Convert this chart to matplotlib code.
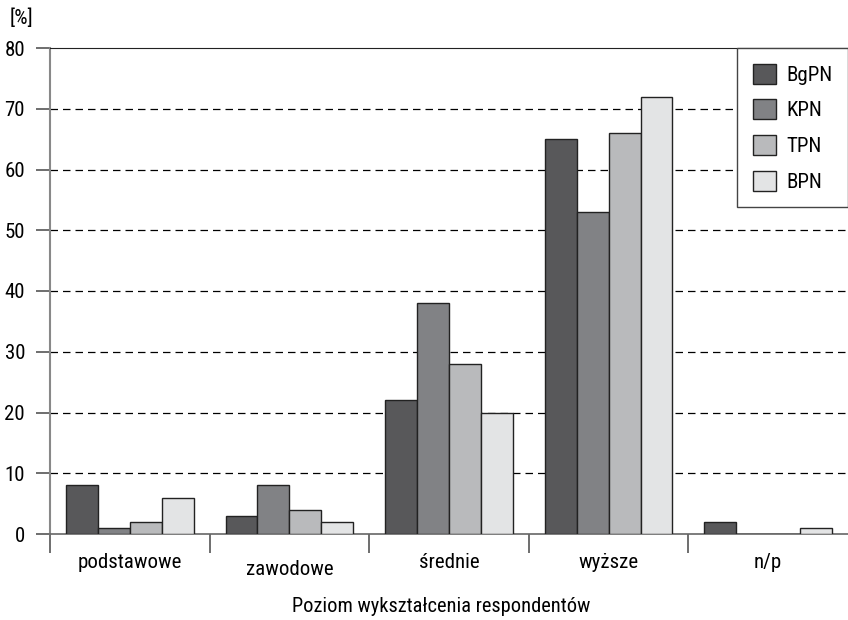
import numpy as np
import matplotlib
matplotlib.use('Agg')
import matplotlib.pyplot as plt
from matplotlib.transforms import ScaledTranslation

plt.rcParams['font.family'] = ['Roboto Condensed', 'DejaVu Sans']

# --- Data ---
categories = ["podstawowe", "zawodowe", "średnie", "wyższe", "n/p"]
series_names = ["BgPN", "KPN", "TPN", "BPN"]
bgpn = [8, 3, 22, 65, 2]
kpn = [1, 8, 38, 53, 0]
tpn = [2, 4, 28, 66, 0]
bpn = [6, 2, 20, 72, 1]
series = [bgpn, kpn, tpn, bpn]
colors = ['#58585a', '#818285', '#b9babc', '#e3e4e5']

fig = plt.figure(figsize=(8.48, 6.2), dpi=100)
ax = fig.add_axes([50 / 848, 1 - 534 / 620, 1 - 50 / 848, (534 - 48) / 620])

x = np.arange(len(categories))
bw = 0.2
for i, (vals, name) in enumerate(zip(series, series_names)):
    ax.bar(x + (i - 1.5) * bw, vals, width=bw, color=colors[i],
           edgecolor='#222222', linewidth=1.0, label=name, zorder=3)

ax.set_xlim(-0.5, len(categories) - 0.5)
ax.set_ylim(0, 80)
ax.set_yticks(range(0, 81, 10))
for yv in range(10, 80, 10):
    ax.axhline(yv, color='black', linestyle=(0, (6, 4)), linewidth=0.9, zorder=1)

# category labels on minor ticks, boundary marks on major ticks
ax.set_xticks(np.arange(-0.5, len(categories) - 0.5, 1.0))
ax.set_xticklabels([])
ax.set_xticks(x, minor=True)
ax.set_xticklabels(categories, minor=True, fontsize=15)
ax.tick_params(axis='x', which='major', length=14, width=1.2, color='#555555', direction='out')
ax.tick_params(axis='x', which='minor', length=0, pad=14)
ax.tick_params(axis='y', length=10, width=1.2, color='#555555', labelsize=15, pad=8)

# "zawodowe" sits a little lower in the original
lab = ax.get_xticklabels(minor=True)[1]
lab.set_transform(lab.get_transform() + ScaledTranslation(0, -5 / 72, fig.dpi_scale_trans))

ax.spines['right'].set_visible(False)
ax.spines['top'].set_color('#222222')
ax.spines['left'].set_color('#888888')
ax.spines['left'].set_linewidth(1.5)
ax.spines['bottom'].set_color('#666666')
ax.spines['bottom'].set_linewidth(1.2)

fig.text(10 / 848, 1 - 18 / 620, "[%]", fontsize=15, ha='left', va='center')
fig.text(0.52, 1 - 607 / 620, "Poziom wykształcenia respondentów", ha='center', va='center', fontsize=14.7)

leg = ax.legend(loc='upper right', bbox_to_anchor=(1.0, 1.0), borderaxespad=0,
                fontsize=15, fancybox=False, edgecolor='#444444', framealpha=1,
                handlelength=1.1, handleheight=1.1, labelspacing=0.7,
                borderpad=0.75, handletextpad=0.5)
leg.get_frame().set_linewidth(1.0)
leg.set_zorder(5)

fig.savefig("out.png", dpi=100)
